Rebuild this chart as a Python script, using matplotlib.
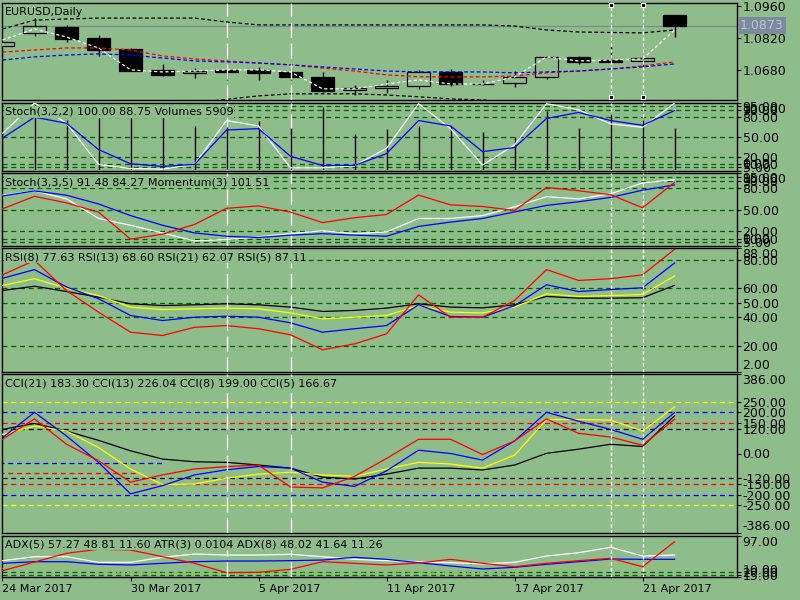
import matplotlib
matplotlib.use('Agg')
import matplotlib.pyplot as plt
import matplotlib.transforms as mtransforms
import numpy as np

BG = '#8fbc8b'
GRID = '#006400'

# --- data ---
date_ticks = [0, 4, 8, 12, 16, 20]
date_labels = ['24 Mar 2017', '30 Mar 2017', '5 Apr 2017', '11 Apr 2017', '17 Apr 2017', '21 Apr 2017']

opens = [1.0785, 1.0839, 1.0867, 1.0819, 1.0771, 1.0679, 1.0664, 1.0680, 1.0679, 1.0670, 1.0647,
         1.0590, 1.0599, 1.0607, 1.0669, 1.0616, 1.0620, 1.0647, 1.0734, 1.0721, 1.0719, 1.0919]
highs = [1.0803, 1.0909, 1.0876, 1.0832, 1.0776, 1.0705, 1.0687, 1.0683, 1.0690, 1.0686, 1.0671,
         1.0613, 1.0635, 1.0679, 1.0683, 1.0635, 1.0673, 1.0740, 1.0741, 1.0784, 1.0744, 1.0920]
lows = [1.0783, 1.0829, 1.0803, 1.0740, 1.0674, 1.0652, 1.0644, 1.0635, 1.0635, 1.0635, 1.0582,
        1.0569, 1.0579, 1.0594, 1.0610, 1.0614, 1.0603, 1.0639, 1.0705, 1.0714, 1.0693, 1.0824]
closes = [1.0800, 1.0871, 1.0816, 1.0768, 1.0676, 1.0658, 1.0676, 1.0671, 1.0667, 1.0647, 1.0588,
          1.0600, 1.0609, 1.0669, 1.0616, 1.0617, 1.0647, 1.0734, 1.0712, 1.0715, 1.0730, 1.0873]

close_line = [1.0810, 1.0858, 1.0823, 1.0775, 1.0679, 1.0670, 1.0674, 1.0679, 1.0679, 1.0670, 1.0596,
              1.0596, 1.0617, 1.0635, 1.0617, 1.0617, 1.0648, 1.0736, 1.0718, 1.0722, 1.0727, 1.0854]
ma_red = [1.0757, 1.0766, 1.0775, 1.0775, 1.0766, 1.0740, 1.0727, 1.0718, 1.0709, 1.0701, 1.0687,
          1.0674, 1.0657, 1.0649, 1.0648, 1.0648, 1.0652, 1.0666, 1.0674, 1.0683, 1.0696, 1.0714]
ma_blue = [1.0722, 1.0736, 1.0744, 1.0749, 1.0744, 1.0731, 1.0718, 1.0714, 1.0709, 1.0701, 1.0692,
           1.0683, 1.0674, 1.0670, 1.0670, 1.0670, 1.0666, 1.0670, 1.0674, 1.0683, 1.0692, 1.0705]
band_up = [1.0858, 1.0897, 1.0902, 1.0906, 1.0906, 1.0906, 1.0906, 1.0889, 1.0876, 1.0876, 1.0876,
           1.0876, 1.0876, 1.0876, 1.0876, 1.0876, 1.0871, 1.0854, 1.0845, 1.0843, 1.0841, 1.0854]
band_dn = [1.0530, 1.0530, 1.0530, 1.0530, 1.0530, 1.0530, 1.0535, 1.0550, 1.0565, 1.0574, 1.0574,
           1.0574, 1.0569, 1.0561, 1.0552, 1.0547, 1.0535, 1.0530, 1.0530, 1.0530, 1.0530, 1.0530]
last_price = 1.0873

stoch1_main = [55, 100, 70, 9, 3, 2, 9, 74, 66, 4, 4, 7, 33, 99, 62, 8, 38, 99, 90, 69, 64, 100]
stoch1_sig = [48, 79, 70, 31, 10, 6, 9, 60, 62, 21, 7.5, 7.5, 25, 74, 66, 28, 34, 77, 86, 74, 67, 88.75]
volumes = [7500, 9400, 7050, 7740, 7970, 7500, 6220, 6130, 6950, 6040, 8880,
           5120, 5770, 6220, 6220, 5360, 4750, 8430, 5910, 7970, 7150, 5909]

stoch2_main = [70, 76, 65, 38, 28.6, 18, 7, 9, 12.6, 17, 21, 17, 19.5, 38, 38, 42, 54, 68, 65, 72, 87, 91.48]
stoch2_sig = [69, 76, 70, 58, 42, 28.6, 18, 13.5, 11.7, 15, 17, 15, 13.5, 27, 33, 38, 47, 56, 61, 67, 77, 84.27]
momentum = [100.05, 100.74, 100.38, 99.87, 98.38, 98.65, 99.19, 100.08, 100.21, 99.87, 99.29,
            99.56, 99.74, 100.81, 100.27, 100.18, 99.96, 101.23, 101.05, 100.83, 100.11, 101.51]

rsi5 = [69.4, 79.4, 58.5, 43.5, 29.6, 27.3, 33, 34.2, 32, 27.8, 17.4, 21.5, 28.5, 55.5, 40, 40, 51.6, 73, 65.5, 66.7, 69.4, 87.11]
rsi8 = [67, 73, 61, 52.8, 41.2, 37.7, 40, 40.7, 40, 36.1, 29.6, 32, 34.2, 48.6, 40.5, 40, 48, 62.5, 57.8, 59.2, 60.4, 77.63]
rsi13 = [62, 66.7, 60.1, 55, 47, 45.3, 45.8, 46.3, 45.8, 43, 38.9, 40, 41.2, 48.1, 43.5, 43, 47, 56.2, 54.4, 55, 55.8, 68.60]
rsi21 = [58.5, 61.5, 57.8, 53.9, 49.3, 48.1, 48.6, 49.3, 48.6, 47, 44, 44.7, 46.3, 49.3, 47, 46.5, 48.6, 54.4, 53.2, 53.2, 53.5, 62.07]

cci5 = [69, 168, 45, -35, -139, -104, -75, -64, -56, -163, -167, -111, -24, 69, 69, -5, 61, 168, 98, 80, 40, 166.67]
cci8 = [77, 200, 85, -43, -196, -156, -104, -79, -63, -71, -139, -160, -84, 16, 0, -32, 61, 200, 157, 117, 69, 199.0]
cci13 = [93, 133, 109, 29, -75, -151, -148, -120, -100, -91, -104, -111, -75, -43, -51, -71, -8, 165, 165, 162, 109, 226.04]
cci21 = [117, 146, 109, 64, 13, -27, -40, -43, -56, -71, -115, -124, -100, -71, -71, -80, -56, 1, 21, 45, 34, 183.30]
cci_part_levels = [-47, -95]
cci_part_ends = [5.0, 4.25]
cci_part_colors = ['blue', 'red']

adx_red = [23.2, 41.4, 59.7, 68.1, 66.6, 52.6, 38.7, 19.0, 19.9, 26.1, 42.1, 38.7, 35.2, 39.3, 47.1, 38.7, 31.6, 38.7, 44.2, 49.2, 31.6, 84.0]
adx_white = [44.2, 52.6, 52.6, 40.8, 40.8, 51.3, 58.2, 56.1, 56.1, 57.6, 52.6, 47.1, 44.2, 42.1, 40.0, 37.3, 40.8, 54.0, 60.9, 72.3, 54.0, 56.1]
adx_blue = [38.7, 42.1, 42.1, 36.6, 35.2, 38.7, 42.1, 43.5, 43.5, 44.2, 45.6, 51.3, 47.1, 40.0, 33.1, 26.8, 30.3, 36.6, 42.1, 47.7, 47.1, 47.1]
atr_line = [28.2, 33.1, 29.5, 21.1, 19.0, 17.8, 17.8, 17.8, 17.8, 17.8, 17.8, 17.8, 17.8, 17.8, 19.0, 19.0, 21.1, 26.8, 29.5, 35.2, 28.2, 40.0]

vlines_long = [7, 9]
vlines_short = [19, 20]

x = np.arange(len(closes))

fig = plt.figure(figsize=(8, 6), dpi=100, facecolor=BG)

# panel pixel rows (top, bottom)
rows = [(3, 100), (103, 170.5), (173.5, 246), (248, 372), (374, 533), (535.5, 577)]
axes = []
for top, bot in rows:
    ax = fig.add_axes([2 / 800, 1 - bot / 600, 735 / 800, (bot - top) / 600])
    ax.set_facecolor(BG)
    ax.set_xlim(-0.0156, 22.95)
    for s in ax.spines.values():
        s.set_color('black')
        s.set_linewidth(1.0)
    ax.tick_params(axis='x', bottom=False, labelbottom=False)
    axes.append(ax)
ax1, ax2, ax3, ax4, ax5, ax6 = axes


def right_axis(ax, ticks, fmt='{:.2f}'):
    ax.yaxis.tick_right()
    ax.set_yticks(ticks)
    ax.set_yticklabels([fmt.format(t) for t in ticks])
    ax.tick_params(axis='y', direction='out', length=3, width=0.8, labelsize=9, pad=1, colors='black')
    lo, hi = ax.get_ylim()
    for t, lab in zip(ticks, ax.get_yticklabels()):
        if abs(t - hi) < 1e-9:
            lab.set_verticalalignment('top')
        elif abs(t - lo) < 1e-9:
            lab.set_verticalalignment('bottom')


def panel_label(ax, text):
    ax.annotate(text, xy=(0, 1), xycoords='axes fraction', xytext=(3, -4), textcoords='offset pixels',
                ha='left', va='top', fontsize=8, color='black', zorder=20,
                bbox=dict(facecolor=BG, edgecolor='none', pad=0.5))


def levels(ax, vals, color=GRID):
    for v in vals:
        ax.axhline(v, color=color, lw=0.9, ls=(0, (4, 3)), zorder=1)


# --- main price panel ---
ax1.set_ylim(1.0547, 1.0972)
ax1.axhline(last_price, color='#7a8898', lw=0.9, zorder=1)
ax1.vlines(x, lows, highs, color='black', lw=1.0, zorder=2)
bodies = np.array(closes) - np.array(opens)
bodies = np.where(np.abs(bodies) < 0.00005, 0.00005, bodies)
fills = ['black' if c < o else BG for o, c in zip(opens, closes)]
ax1.bar(x, bodies, bottom=opens, width=0.72, color=fills, edgecolor='black', linewidth=0.9, zorder=3)
ax1.plot(x, band_up, color='black', lw=0.9, ls=(0, (3, 2)), zorder=4)
ax1.plot(x, band_dn, color='black', lw=0.9, ls=(0, (3, 2)), zorder=4)
ax1.plot(x, ma_red, color='red', lw=0.9, ls=(0, (3, 2)), zorder=4)
ax1.plot(x, ma_blue, color='blue', lw=0.9, ls=(0, (3, 2)), zorder=4)
ax1.plot(x, close_line, color='white', lw=0.9, ls=(0, (2.5, 2)), zorder=5)
right_axis(ax1, [1.0680, 1.0820, 1.0960], '{:.4f}')
ax1.text(1.004, last_price, '{:.4f}'.format(last_price), transform=mtransforms.blended_transform_factory(ax1.transAxes, ax1.transData),
         ha='left', va='center', fontsize=9, color='#b9c6d2', clip_on=False, zorder=30,
         bbox=dict(facecolor='#7b8a9c', edgecolor='none', pad=1.5))
handle_tr = mtransforms.blended_transform_factory(ax1.transData, ax1.transAxes)
for v in vlines_short:
    ax1.plot([v, v], [0.975, 0.03], ls='none', marker='s', markersize=3.5, mfc='black', mec='white', mew=0.8,
             transform=handle_tr, zorder=12, clip_on=False)
panel_label(ax1, 'EURUSD,Daily')

# --- Stoch(3,2,2) + volumes ---
ax2.set_ylim(0, 100)
levels(ax2, [95, 90, 80, 50, 20, 10, 5])
axv = ax2.twinx()
axv.set_ylim(0, 9490)
axv.set_yticks([])
axv.set_xlim(ax2.get_xlim())
for s in axv.spines.values():
    s.set_visible(False)
axv.vlines(x, 0, volumes, color='black', lw=1.0, zorder=2)
axv.plot(x, stoch1_main, color='white', lw=0.9, transform=ax2.transData, zorder=3)
axv.plot(x, stoch1_sig, color='blue', lw=0.9, transform=ax2.transData, zorder=4)
right_axis(ax2, [0, 5, 10, 20, 50, 80, 90, 95, 100])
axv.annotate('Stoch(3,2,2) 100.00 88.75 Volumes 5909', xy=(0, 1), xycoords='axes fraction', xytext=(3, -4),
             textcoords='offset pixels', ha='left', va='top', fontsize=8, zorder=20,
             bbox=dict(facecolor=BG, edgecolor='none', pad=0.5))

# --- Stoch(3,3,5) + momentum ---
ax3.set_ylim(0, 100)
levels(ax3, [95, 90, 80, 50, 20, 10, 5])
axm = ax3.twinx()
axm.set_ylim(98, 102)
axm.set_yticks([])
axm.set_xlim(ax3.get_xlim())
for s in axm.spines.values():
    s.set_visible(False)
axm.plot(x, stoch2_main, color='white', lw=0.9, transform=ax3.transData, zorder=3)
axm.plot(x, stoch2_sig, color='blue', lw=0.9, transform=ax3.transData, zorder=4)
axm.plot(x, momentum, color='red', lw=0.9, zorder=5)
right_axis(ax3, [0, 5, 10, 20, 50, 80, 90, 95, 100])
axm.annotate('Stoch(3,3,5) 91.48 84.27 Momentum(3) 101.51', xy=(0, 1), xycoords='axes fraction', xytext=(3, -4),
             textcoords='offset pixels', ha='left', va='top', fontsize=8, zorder=20,
             bbox=dict(facecolor=BG, edgecolor='none', pad=0.5))

# --- RSI ---
ax4.set_ylim(2, 88)
levels(ax4, [80, 60, 50, 40, 20])
ax4.plot(x, rsi21, color='black', lw=0.9, zorder=3)
ax4.plot(x, rsi13, color='yellow', lw=0.9, zorder=4)
ax4.plot(x, rsi8, color='blue', lw=0.9, zorder=5)
ax4.plot(x, rsi5, color='red', lw=0.9, zorder=6)
right_axis(ax4, [2, 20, 40, 50, 60, 80, 88])
panel_label(ax4, 'RSI(8) 77.63 RSI(13) 68.60 RSI(21) 62.07 RSI(5) 87.11')

# --- CCI ---
ax5.set_ylim(-386, 386)
for lv, col in [(250, 'yellow'), (200, 'blue'), (150, 'red'), (120, 'black')]:
    levels(ax5, [lv, -lv], col)
for lv, xe, col in zip(cci_part_levels, cci_part_ends, cci_part_colors):
    ax5.hlines(lv, -0.5, xe, color=col, lw=0.9, ls=(0, (4, 3)), zorder=1)
ax5.plot(x, cci21, color='black', lw=0.9, zorder=3)
ax5.plot(x, cci13, color='yellow', lw=0.9, zorder=4)
ax5.plot(x, cci8, color='blue', lw=0.9, zorder=5)
ax5.plot(x, cci5, color='red', lw=0.9, zorder=6)
right_axis(ax5, [-386, -250, -200, -150, -120, 0, 120, 150, 200, 250, 386])
panel_label(ax5, 'CCI(21) 183.30 CCI(13) 226.04 CCI(8) 199.00 CCI(5) 166.67')

# --- ADX / ATR ---
ax6.set_ylim(10, 97)
levels(ax6, [20, 15])
ax6.plot(x, atr_line, color='#9acd32', lw=0.9, ls=(0, (2, 2)), zorder=3)
ax6.plot(x, adx_white, color='white', lw=0.9, zorder=4)
ax6.plot(x, adx_blue, color='blue', lw=0.9, zorder=5)
ax6.plot(x, adx_red, color='red', lw=0.9, zorder=6)
right_axis(ax6, [10, 15, 20, 97])
panel_label(ax6, 'ADX(5) 57.27 48.81 11.60 ATR(3) 0.0104 ADX(8) 48.02 41.64 11.26')

# date axis
ax6.set_xticks(date_ticks)
ax6.set_xticklabels(date_labels, ha='left')
ax6.tick_params(axis='x', bottom=True, labelbottom=True, direction='out', length=3, width=0.8,
                labelsize=8, pad=2, colors='black')

# vertical lines through all windows
for ax in axes:
    for v in vlines_long:
        ax.axvline(v, color='white', lw=1.0, ls=(0, (11, 4)), zorder=9)
    for v in vlines_short:
        ax.axvline(v, color='white', lw=1.0, ls=(0, (2.5, 1.8)), zorder=9)

fig.savefig('out.png', dpi=100, facecolor=BG)
